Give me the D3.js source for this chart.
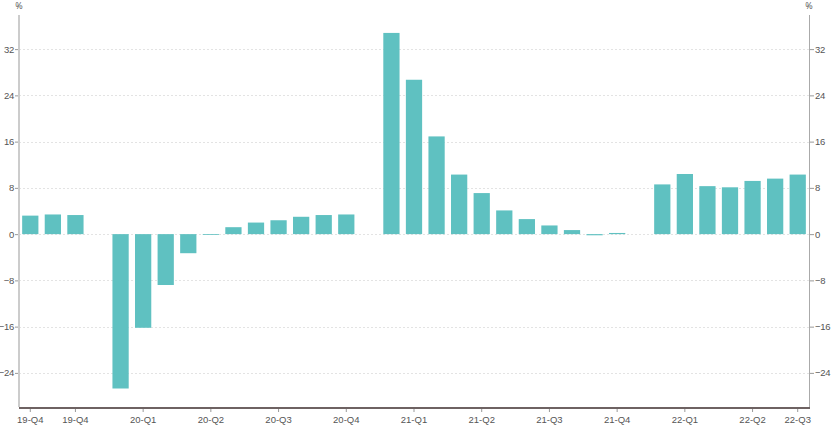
<!DOCTYPE html>
<html>
<head>
<meta charset="utf-8">
<script src="https://cdn.jsdelivr.net/npm/d3@7"></script>
<style>
  body { margin: 0; background: #fff; }
  svg { display: block; font-family: "Open Sans", "Noto Sans", sans-serif; }
  .grid line { stroke: #e3e3e3; stroke-dasharray: 2,2; }
  .tick text { fill: #555; font-size: 9.5px; }
</style>
</head>
<body>
<svg id="chart" width="831" height="429"></svg>
<script>
// monthly slots, null = no data (January)
var months = ['2019-10','2019-11','2019-12','2020-01','2020-02','2020-03','2020-04','2020-05','2020-06',
  '2020-07','2020-08','2020-09','2020-10','2020-11','2020-12','2021-01','2021-02','2021-03','2021-04',
  '2021-05','2021-06','2021-07','2021-08','2021-09','2021-10','2021-11','2021-12','2022-01','2022-02',
  '2022-03','2022-04','2022-05','2022-06','2022-07','2022-08'];
var values = [3.2, 3.4, 3.3, null, -26.7, -16.2, -8.8, -3.3, -0.1, 1.2, 2.0, 2.4, 3.0, 3.3, 3.4,
  null, 34.8, 26.7, 16.9, 10.3, 7.1, 4.1, 2.6, 1.5, 0.7, -0.2, 0.2,
  null, 8.6, 10.4, 8.3, 8.1, 9.2, 9.6, 10.3];
var tickMonths = ['2019-10','2019-12','2020-03','2020-06','2020-09','2020-12','2021-03','2021-06',
  '2021-09','2021-12','2022-03','2022-06','2022-08'];
var tickLabels = ['19-Q4','19-Q4','20-Q1','20-Q2','20-Q3','20-Q4','21-Q1','21-Q2','21-Q3','21-Q4',
  '22-Q1','22-Q2','22-Q3'];
var yTicks = [-24, -16, -8, 0, 8, 16, 24, 32];

var svg = d3.select('#chart'),
    plotLeft = 19, plotRight = 809, plotTop = 15, plotBottom = 407;

var x = d3.scaleBand().domain(months).range([plotLeft, plotRight]).paddingInner(0.28).paddingOuter(0.14);
var y = d3.scaleLinear().domain([-29.9, 37.9]).range([plotBottom, plotTop]);

// grid
svg.append('g').attr('class', 'grid')
  .selectAll('line').data(yTicks).enter().append('line')
  .attr('x1', plotLeft).attr('x2', plotRight)
  .attr('y1', function(d) { return Math.round(y(d)) + 0.5; })
  .attr('y2', function(d) { return Math.round(y(d)) + 0.5; });

// bars
svg.append('g').selectAll('rect')
  .data(months.map(function(m, i) { return {m: m, v: values[i]}; }).filter(function(d) { return d.v !== null; }))
  .enter().append('rect')
  .attr('x', function(d) { return x(d.m); })
  .attr('width', x.bandwidth())
  .attr('y', function(d) { return y(Math.max(0, d.v)); })
  .attr('height', function(d) { return Math.max(0.8, Math.abs(y(d.v) - y(0))); })
  .attr('fill', '#5fc1c1');

// axes
var leftAxis = svg.append('g').attr('transform', 'translate(' + plotLeft + ',0)')
  .call(d3.axisLeft(y).tickValues(yTicks).tickSize(4).tickPadding(1).tickFormat(d3.format('d')));
leftAxis.select('.domain').remove();
leftAxis.selectAll('.tick line').attr('stroke', '#999');
leftAxis.selectAll('.tick text').attr('letter-spacing', '-0.3');
svg.append('line').attr('x1', plotLeft).attr('x2', plotLeft).attr('y1', plotTop).attr('y2', plotBottom)
  .attr('stroke', '#ccc').attr('stroke-width', 2);

var rightAxis = svg.append('g').attr('transform', 'translate(' + plotRight + ',0)')
  .call(d3.axisRight(y).tickValues(yTicks).tickSize(5).tickPadding(1).tickFormat(d3.format('d')));
rightAxis.select('.domain').remove();
rightAxis.selectAll('.tick line').attr('stroke', '#999');
rightAxis.selectAll('.tick text').attr('letter-spacing', '-0.3');
svg.append('line').attr('x1', plotRight + 0.5).attr('x2', plotRight + 0.5).attr('y1', plotTop).attr('y2', plotBottom)
  .attr('stroke', '#aaa').attr('stroke-width', 1);

var xAxis = svg.append('g').attr('transform', 'translate(0,' + plotBottom + ')')
  .call(d3.axisBottom(x).tickValues(tickMonths).tickSize(5).tickPadding(4)
    .tickFormat(function(d) { return tickLabels[tickMonths.indexOf(d)]; }));
xAxis.select('.domain').remove();
xAxis.selectAll('.tick line').attr('stroke', '#999');
svg.append('line').attr('x1', plotLeft).attr('x2', plotRight + 1).attr('y1', plotBottom + 1).attr('y2', plotBottom + 1)
  .attr('stroke', '#6e6262').attr('stroke-width', 2);

// units
svg.append('text').attr('x', plotLeft).attr('y', 9).attr('text-anchor', 'middle')
  .attr('font-size', 9).attr('fill', '#555').text('%');
svg.append('text').attr('x', plotRight).attr('y', 9).attr('text-anchor', 'middle')
  .attr('font-size', 9).attr('fill', '#555').text('%');
</script>
</body>
</html>
